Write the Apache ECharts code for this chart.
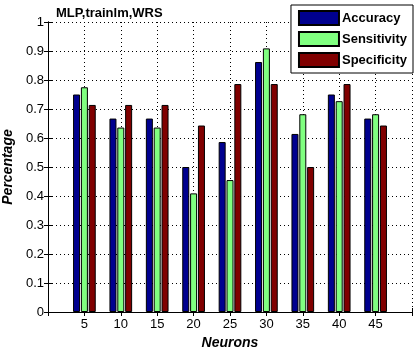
<!DOCTYPE html>
<html>
<head>
<meta charset="utf-8">
<script src="https://cdn.jsdelivr.net/npm/echarts@6/dist/echarts.min.js"></script>
<style>
  html, body { margin: 0; padding: 0; background: #fff; }
  #chart { width: 417px; height: 351px; }
</style>
</head>
<body>
<div id="chart"></div>
<script>
const neurons = [5, 10, 15, 20, 25, 30, 35, 40, 45];
const accuracy = [0.75, 0.667, 0.667, 0.5, 0.586, 0.862, 0.614, 0.75, 0.667];
const sensitivity = [0.775, 0.636, 0.636, 0.409, 0.455, 0.909, 0.682, 0.727, 0.682];
const specificity = [0.714, 0.714, 0.714, 0.643, 0.786, 0.786, 0.5, 0.786, 0.643];
const yTicks = [0, 0.1, 0.2, 0.3, 0.4, 0.5, 0.6, 0.7, 0.8, 0.9, 1];

const font = 'Liberation Sans, Arial, sans-serif';
const dotted = { show: true, lineStyle: { color: '#000', type: [1, 3], width: 1 } };

// pair each value with its x position on the 0..50 value axis
function pairs(values) {
    return neurons.map((n, i) => [n, values[i]]);
}

function barSeries(name, color, values) {
    return {
        name: name,
        type: 'bar',
        barWidth: 7,
        barGap: '12%',
        itemStyle: { color: color, borderColor: '#000', borderWidth: 1 },
        data: pairs(values)
    };
}

const chart = echarts.init(document.getElementById('chart'));
chart.setOption({
    animation: false,
    title: {
        text: 'MLP,trainlm,WRS',
        left: 51,
        top: 2,
        textStyle: { fontFamily: font, fontSize: 13, fontWeight: 'bold', color: '#000' }
    },
    legend: {
        orient: 'vertical',
        right: 4,
        top: 5,
        padding: [5, 6, 5, 7],
        itemGap: 5,
        itemWidth: 40,
        itemHeight: 14,
        icon: 'rect',
        backgroundColor: '#fff',
        borderColor: '#000',
        borderWidth: 1,
        borderRadius: 0,
        textStyle: { fontFamily: font, fontSize: 13, fontWeight: 'bold', color: '#000', padding: [0, 0, 0, -2] },
        data: ['Accuracy', 'Sensitivity', 'Specificity']
    },
    grid: { left: 48, right: 5, top: 22, bottom: 39, outerBoundsMode: 'none' },
    xAxis: [{
        type: 'value',
        min: 0,
        max: 50,
        interval: 5,
        name: 'Neurons',
        nameLocation: 'middle',
        nameGap: 24,
        nameTextStyle: { fontFamily: font, fontSize: 14, fontWeight: 'bold', fontStyle: 'italic', color: '#000' },
        axisLine: { show: true, lineStyle: { color: '#000' } },
        axisTick: { show: true, inside: true, length: 4, lineStyle: { color: '#000' } },
        axisLabel: {
            fontFamily: font, fontSize: 13, color: '#000', margin: 6,
            formatter: v => (neurons.includes(v) ? String(v) : '')
        },
        splitLine: dotted
    }, {
        type: 'value',
        position: 'top',
        min: 0,
        max: 50,
        interval: 5,
        axisLine: { show: true, lineStyle: { color: '#000' } },
        axisTick: { show: true, inside: true, length: 4, lineStyle: { color: '#000' } },
        axisLabel: { show: false },
        splitLine: { show: false }
    }],
    yAxis: [{
        type: 'value',
        min: 0,
        max: 1,
        interval: 0.1,
        name: 'Percentage',
        nameLocation: 'middle',
        nameGap: 28,
        nameTextStyle: { fontFamily: font, fontSize: 14, fontWeight: 'bold', fontStyle: 'italic', color: '#000' },
        axisLine: { show: true, lineStyle: { color: '#000' } },
        axisTick: { show: true, inside: true, length: 4, lineStyle: { color: '#000' } },
        axisLabel: {
            fontFamily: font, fontSize: 13, color: '#000', margin: 4,
            formatter: v => {
                const t = yTicks.find(k => Math.abs(k - v) < 1e-6);
                return t === undefined ? '' : String(t);
            }
        },
        splitLine: dotted
    }, {
        type: 'value',
        position: 'right',
        min: 0,
        max: 1,
        interval: 0.1,
        axisLine: { show: true, lineStyle: { color: '#000' } },
        axisTick: { show: true, inside: true, length: 4, lineStyle: { color: '#000' } },
        axisLabel: { show: false },
        splitLine: { show: false }
    }],
    series: [
        barSeries('Accuracy', '#00008f', accuracy),
        barSeries('Sensitivity', '#80ff80', sensitivity),
        barSeries('Specificity', '#800000', specificity)
    ]
});
</script>
</body>
</html>
